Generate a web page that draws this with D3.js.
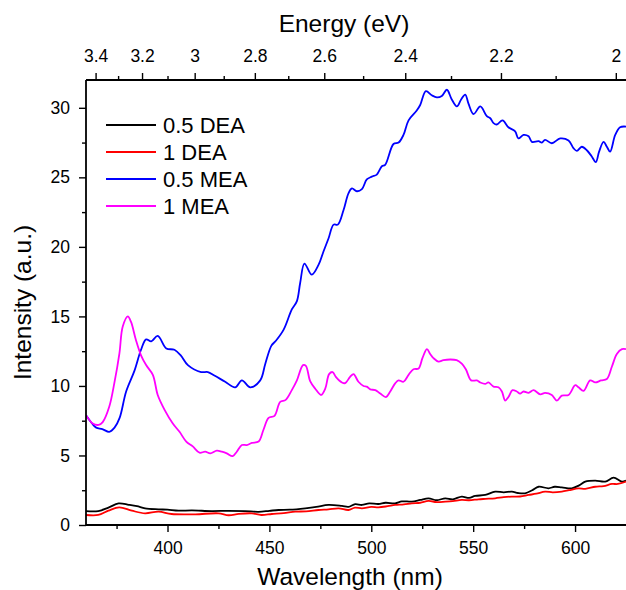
<!DOCTYPE html>
<html><head><meta charset="utf-8">
<script src="https://cdn.jsdelivr.net/npm/d3@7"></script>
<style>
body{margin:0;background:#fff}
text{font-family:Arial,"Liberation Sans",sans-serif;fill:#000}
</style>
</head><body>
<svg id="chart" width="626" height="590"></svg>
<script>
// ---------- data ----------
const seriesNames = ["0.5 DEA", "1 DEA", "0.5 MEA", "1 MEA"];
const seriesColors = ["#000000", "#ff0000", "#0000ff", "#ff00ff"];

const xTicks = [400, 450, 500, 550, 600];
const xMinorTicks = [375, 425, 475, 525, 575];
const yTicks = [0, 5, 10, 15, 20, 25, 30];
const yMinorTicks = [2.5, 7.5, 12.5, 17.5, 22.5, 27.5];
const energyTicks = [3.4, 3.2, 3, 2.8, 2.6, 2.4, 2.2, 2];
const energyMinorTicks = [3.3, 3.1, 2.9, 2.7, 2.5, 2.3, 2.1];

// [wavelength (nm), intensity (a.u.)]
const dea05 = [[360,1.0],[366,1.0],[371,1.25],[376,1.55],[381,1.45],[385,1.35],[389,1.2],[395.6,1.13],[400,1.1],[405.4,1.03],[412,1.05],[421.7,1.0],[430,1.02],[438,1.0],[444.7,0.95],[450,1.02],[454.5,1.08],[460,1.1],[467.6,1.2],[473,1.3],[479,1.45],[485.6,1.37],[488.8,1.3],[492.1,1.5],[495.4,1.44],[499,1.55],[503.5,1.51],[507,1.6],[511.7,1.56],[515,1.7],[519.9,1.68],[524,1.8],[528.1,1.92],[532,1.78],[536.3,1.92],[540,1.85],[544.4,2.04],[548,1.95],[551,2.09],[555.9,2.16],[560.8,2.4],[565,2.35],[569,2.4],[572,2.3],[575.5,2.28],[579,2.5],[582.1,2.75],[587,2.64],[590,2.75],[593.5,2.71],[598.4,2.64],[602,2.85],[605,3.12],[609.9,3.19],[614.8,3.12],[618.9,3.4],[623,3.12],[625,3.2]];

const dea1 = [[360,0.72],[366,0.72],[371,1.03],[376.3,1.27],[382.5,1.03],[389,0.84],[395.6,0.96],[402,0.79],[413.6,0.77],[425,0.84],[430,0.7],[435,0.8],[441.4,0.84],[446,0.72],[451.2,0.79],[457,0.85],[462.7,0.96],[468,0.98],[474.1,1.08],[479,1.13],[484,1.2],[488.8,1.08],[492,1.25],[495.4,1.2],[500,1.3],[503.5,1.27],[508,1.35],[511.7,1.44],[516,1.48],[519.9,1.56],[524,1.6],[528.1,1.73],[532,1.65],[536.3,1.68],[540,1.72],[544.4,1.8],[548,1.78],[552.6,1.85],[556,1.88],[560.8,1.92],[565,2.0],[569,2.04],[573,2.05],[577.2,2.16],[581,2.25],[585.3,2.4],[589,2.35],[593.5,2.4],[597,2.5],[601.7,2.64],[605,2.6],[609.9,2.75],[614,2.8],[618.1,2.95],[621,2.95],[625,3.12]];

const mea05 = [[360,7.9],[363,7.3],[365,7.0],[368,6.9],[371.4,6.7],[374,7.0],[376.5,7.7],[379.7,9.6],[383.8,11.1],[387,12.6],[389.5,13.35],[392,13.2],[395.2,13.6],[399.4,12.7],[403.4,12.6],[406.5,12.2],[410,11.5],[416.5,11.0],[419.8,11.0],[423,10.75],[428.3,10.3],[433.2,9.9],[436.5,10.4],[440.6,9.9],[445.5,10.4],[448,11.6],[451,12.9],[453.2,13.25],[457,14.05],[461,15.5],[463.5,16.1],[465.1,17.4],[467.2,18.8],[470.8,18.0],[474.1,18.7],[476.5,19.65],[479,20.6],[481.5,21.6],[483.6,21.6],[486.4,22.65],[488.8,23.85],[490.5,24.2],[492.9,24.0],[495.4,24.15],[497.8,24.85],[500.3,25.05],[502.7,25.2],[505.2,25.8],[506.8,25.9],[510.9,27.4],[513.4,27.5],[515.8,28.05],[518.3,29.1],[522.3,29.8],[524,30.2],[526.8,31.2],[529.7,30.9],[532.2,30.75],[534.6,30.85],[537.1,31.3],[539.5,30.6],[542,30.1],[544.1,30.6],[546.1,30.95],[547.7,30.3],[550.2,29.55],[553.5,30.1],[556.7,29.4],[558.4,29.25],[560,28.9],[561.6,28.8],[564.4,29.1],[567.3,28.6],[570.6,28.3],[572.2,27.8],[574.7,28.05],[577.2,27.95],[578.8,27.55],[582.1,27.6],[583.7,27.5],[585.3,27.7],[588.6,27.45],[592.7,27.8],[596.8,27.65],[599.2,27.1],[600.9,26.9],[603.3,27.2],[605.8,26.95],[608.2,26.5],[610.2,26.1],[611.8,26.85],[614,27.55],[615.6,27.2],[617.2,26.85],[619.7,28.05],[622.1,28.6],[625,28.65]];

const mea1 = [[360,7.9],[363.3,7.3],[366.2,7.2],[368.2,7.4],[371.4,8.5],[373.9,10.2],[376.4,12.35],[378,14.25],[380.5,15.0],[382.1,14.6],[384.5,13.3],[387,12.2],[389.5,11.5],[392.8,10.8],[395.2,9.35],[398.5,8.3],[402.6,7.3],[405.9,6.7],[409.2,6.0],[412.4,5.65],[415.7,5.2],[418.5,5.27],[421,5.15],[424.2,5.35],[426.7,5.27],[429.1,5.15],[432,4.95],[434,5.27],[436.5,5.75],[438.9,5.75],[441.4,5.9],[444.7,6.0],[447.1,6.85],[449.6,7.7],[452.5,7.85],[455.3,8.85],[458,9.0],[461,9.7],[463.5,10.4],[466.5,11.5],[467.9,11.45],[470,10.35],[472.5,9.8],[475.4,9.35],[477.4,9.8],[479.3,10.85],[481,11.0],[482.6,10.65],[485.6,10.25],[487.2,10.2],[489.6,10.65],[491.3,10.85],[493.7,10.3],[496.2,10.0],[497.8,9.95],[499.5,9.75],[502,9.7],[504.4,9.45],[507.2,9.2],[509.3,9.6],[511.8,10.2],[513.4,10.4],[515.8,10.3],[518.3,10.8],[520.7,11.2],[523.2,11.25],[525.1,12.0],[527.3,12.65],[528.9,12.3],[530.5,12.0],[533,11.75],[535.4,11.85],[538.7,11.9],[541.9,11.85],[544.4,11.6],[546.4,11.2],[549,10.4],[551.8,10.4],[553.5,10.25],[555.9,10.15],[557.5,10.25],[560,9.95],[562.4,9.9],[564.1,9.6],[565.7,8.95],[567.3,9.2],[569.3,9.7],[571.4,9.6],[573,9.45],[574.7,9.6],[577.2,9.5],[579.6,9.7],[582.9,9.4],[585.3,9.5],[588.6,9.35],[591.1,8.95],[593.5,9.3],[596.8,9.35],[600.1,10.05],[601.7,9.9],[604.2,9.65],[607.4,10.4],[609.9,10.25],[612.8,10.4],[615.6,10.5],[618.1,11.4],[620.5,12.3],[623,12.65],[625,12.65]];

const seriesData = [dea05, dea1, mea05, mea1];

// ---------- layout ----------
const svg = d3.select("#chart");
const L = 86, R = 626, T = 80, B = 525;
const x = d3.scaleLinear().domain([360, 625]).range([L, R]);
const y = d3.scaleLinear().domain([0, 32]).range([B, T]);
const tickFont = "17.5px";

svg.append("defs").append("clipPath").attr("id", "clip")
  .append("rect").attr("x", L).attr("y", T).attr("width", R - L).attr("height", B - T);

// lines
const line = d3.line().x(d => x(d[0])).y(d => y(d[1])).curve(d3.curveCatmullRom.alpha(0.5));
const gLines = svg.append("g").attr("clip-path", "url(#clip)");
seriesData.forEach((s, i) => {
  gLines.append("path").datum(s).attr("d", line)
    .attr("fill", "none").attr("stroke", seriesColors[i]).attr("stroke-width", 1.8)
    .attr("stroke-linejoin", "round");
});

function styleAxis(g) {
  g.selectAll("path.domain").remove();
  g.selectAll("line").attr("stroke", "#000").attr("stroke-width", 1.4);
  g.selectAll("text").style("font-size", tickFont).attr("fill", "#000")
    .style("font-family", "Arial, 'Liberation Sans', sans-serif");
}

// bottom axis
const gb = svg.append("g").attr("transform", `translate(0,${B})`)
  .call(d3.axisBottom(x).tickValues(xTicks).tickSize(7).tickPadding(10).tickFormat(d3.format("d")));
styleAxis(gb);
const gbm = svg.append("g").attr("transform", `translate(0,${B})`)
  .call(d3.axisBottom(x).tickValues(xMinorTicks).tickSize(4).tickFormat(""));
styleAxis(gbm);

// left axis
const gl = svg.append("g").attr("transform", `translate(${L},0)`)
  .call(d3.axisLeft(y).tickValues(yTicks).tickSize(7).tickPadding(9).tickFormat(d3.format("d")));
styleAxis(gl);
const glm = svg.append("g").attr("transform", `translate(${L},0)`)
  .call(d3.axisLeft(y).tickValues(yMinorTicks).tickSize(4).tickFormat(""));
styleAxis(glm);

// top axis (energy = 1240 / wavelength)
const eToNm = e => 1240 / e;
const gt = svg.append("g").attr("transform", `translate(0,${T})`)
  .call(d3.axisTop(x).tickValues(energyTicks.map(eToNm)).tickSize(7).tickPadding(11)
    .tickFormat((d, i) => String(energyTicks[i])));
styleAxis(gt);
const gtm = svg.append("g").attr("transform", `translate(0,${T})`)
  .call(d3.axisTop(x).tickValues(energyMinorTicks.map(eToNm)).tickSize(4).tickFormat(""));
styleAxis(gtm);

// frame lines
svg.append("line").attr("x1", L).attr("x2", R).attr("y1", B).attr("y2", B).attr("stroke", "#000").attr("stroke-width", 1.8);
svg.append("line").attr("x1", L).attr("x2", R).attr("y1", T).attr("y2", T).attr("stroke", "#000").attr("stroke-width", 1.8);
svg.append("line").attr("x1", L).attr("x2", L).attr("y1", T).attr("y2", B).attr("stroke", "#000").attr("stroke-width", 1.8);

// titles
svg.append("text").attr("x", 350).attr("y", 585).attr("text-anchor", "middle")
  .style("font-size", "24.5px").text("Wavelength (nm)");
svg.append("text").attr("x", 344).attr("y", 32).attr("text-anchor", "middle")
  .style("font-size", "24.5px").text("Energy (eV)");
svg.append("text").attr("transform", `translate(31,${(T + B) / 2}) rotate(-90)`).attr("text-anchor", "middle")
  .style("font-size", "24.5px").text("Intensity (a.u.)");

// legend
const leg = svg.append("g");
seriesNames.forEach((n, i) => {
  const yy = 125 + i * 27;
  leg.append("line").attr("x1", 106).attr("x2", 156).attr("y1", yy).attr("y2", yy)
    .attr("stroke", seriesColors[i]).attr("stroke-width", 1.8);
  leg.append("text").attr("x", 163).attr("y", yy + 8).style("font-size", "22px").text(n);
});
</script>
</body></html>
